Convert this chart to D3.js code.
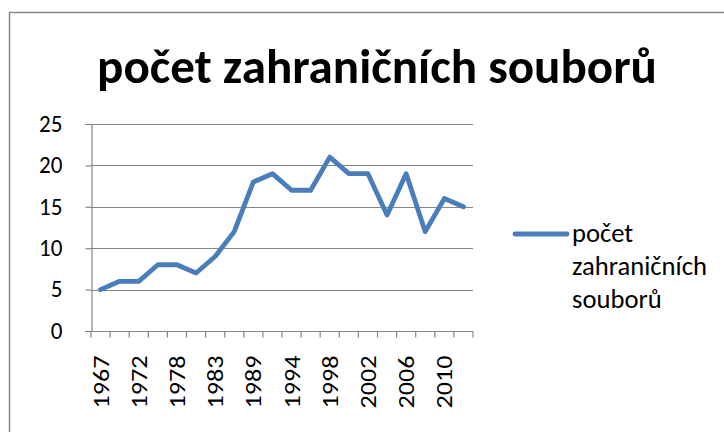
<!DOCTYPE html>
<html>
<head>
<meta charset="utf-8">
<script src="https://cdn.jsdelivr.net/npm/d3@7"></script>
<style>
  body { margin: 0; background: #fff; }
  svg { display: block; }
</style>
</head>
<body>
<svg width="724" height="432"></svg>
<script>
// data
const title = "počet zahraničních souborů";
const seriesName = ["počet", "zahraničních", "souborů"];
const years = ["1967", "1970", "1972", "1975", "1978", "1980", "1983", "1986", "1989", "1992",
               "1994", "1996", "1998", "2000", "2002", "2004", "2006", "2008", "2010", "2012"];
const values = [5, 6, 6, 8, 8, 7, 9, 12, 18, 19, 17, 17, 21, 19, 19, 14, 19, 12, 16, 15];
const yTicks = [0, 5, 10, 15, 20, 25];

const svg = d3.select('svg');
const font = 'Carlito, Calibri, "Open Sans", sans-serif';
const grey = '#868686';
const blue = '#4a7ebb';

// scale a text node's font so it is as wide as in the picture
function fitWidth(sel, target) {
    sel.each(function () {
        const w = this.getComputedTextLength();
        const fs = parseFloat(d3.select(this).attr('font-size'));
        d3.select(this).attr('font-size', fs * target / w);
    });
}

// chart frame, runs off the right and bottom edges
svg.append('rect')
    .attr('x', 9.5).attr('y', 12.5)
    .attr('width', 740).attr('height', 440)
    .attr('fill', 'none')
    .attr('stroke', grey)
    .attr('stroke-width', 1.5);

const plot = { left: 91, right: 473, top: 124, bottom: 331 };

const x = d3.scaleBand()
    .domain(years)
    .range([plot.left, plot.right]);

const y = d3.scaleLinear()
    .domain([0, 25])
    .range([plot.bottom, plot.top]);

// gridlines
svg.append('g')
    .selectAll('line')
    .data(yTicks.slice(1))
    .enter()
    .append('line')
    .attr('x1', plot.left).attr('x2', plot.right)
    .attr('y1', d => Math.round(y(d)) + 0.5).attr('y2', d => Math.round(y(d)) + 0.5)
    .attr('stroke', grey)
    .attr('stroke-width', 1.2);

// y axis
const yAxis = svg.append('g')
    .attr('transform', 'translate(' + (plot.left + 0.5) + ',0)')
    .call(d3.axisLeft(y).tickValues(yTicks).tickSize(6).tickPadding(23));
yAxis.selectAll('text')
    .attr('font-size', 24).attr('fill', '#000').style('font-family', font)
    .attr('dy', '0.3em')
    .attr('textLength', d => String(d).length * 11.7)
    .attr('lengthAdjust', 'spacingAndGlyphs');
yAxis.select('.domain').attr('stroke', grey).attr('stroke-width', 1.2);
yAxis.selectAll('.tick line').attr('stroke', grey).attr('stroke-width', 1.2);

// x axis: ticks between categories, labels every other one
const xAxis = svg.append('g')
    .attr('transform', 'translate(0,' + (Math.round(plot.bottom) + 0.5) + ')');
xAxis.append('line')
    .attr('x1', plot.left - 6).attr('x2', plot.right)
    .attr('stroke', grey).attr('stroke-width', 1.2);
xAxis.selectAll('.xtick')
    .data(years.concat(['end']))
    .enter()
    .append('line')
    .attr('x1', (d, i) => plot.left + i * x.step())
    .attr('x2', (d, i) => plot.left + i * x.step())
    .attr('y1', 0).attr('y2', 6)
    .attr('stroke', grey).attr('stroke-width', 1.2);
xAxis.selectAll('.xlabel')
    .data(years.filter((d, i) => i % 2 === 0))
    .enter()
    .append('text')
    .attr('transform', d => 'translate(' + (x(d) + x.bandwidth() / 2 + 8) + ',24) rotate(-90)')
    .attr('text-anchor', 'end')
    .attr('font-size', 23)
    .attr('font-family', font)
    .attr('textLength', 53)
    .attr('lengthAdjust', 'spacingAndGlyphs')
    .text(d => d);

// series line
const line = d3.line()
    .x((d, i) => x(years[i]) + x.bandwidth() / 2)
    .y(d => y(d));

svg.append('path')
    .datum(values)
    .attr('d', line)
    .attr('fill', 'none')
    .attr('stroke', blue)
    .attr('stroke-width', 4.8)
    .attr('stroke-linejoin', 'round')
    .attr('stroke-linecap', 'round');

// title
const titleText = svg.append('text')
    .attr('x', 377).attr('y', 83)
    .attr('text-anchor', 'middle')
    .attr('font-size', 36)
    .attr('font-weight', 'bold')
    .attr('font-family', font)
    .text(title);
fitWidth(titleText, 560);

// legend
svg.append('line')
    .attr('x1', 515).attr('x2', 567)
    .attr('y1', 234).attr('y2', 234)
    .attr('stroke', blue)
    .attr('stroke-width', 4.8)
    .attr('stroke-linecap', 'round');

const legendText = svg.append('g')
    .selectAll('text')
    .data(seriesName)
    .enter()
    .append('text')
    .attr('x', 572)
    .attr('y', (d, i) => 242 + i * 33)
    .attr('font-size', 22)
    .attr('font-family', font)
    .text(d => d);
fitWidth(legendText.filter((d, i) => i === 1), 135);
legendText.attr('font-size', legendText.filter((d, i) => i === 1).attr('font-size'));
</script>
</body>
</html>
